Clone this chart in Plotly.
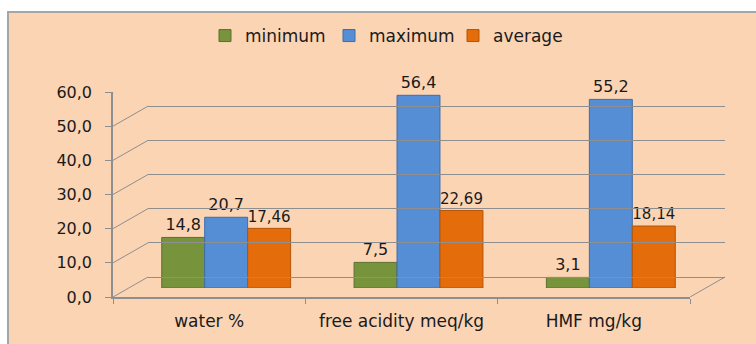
import plotly.graph_objects as go

categories = ["water %", "free acidity meq/kg", "HMF mg/kg"]
minimum = [14.8, 7.5, 3.1]
maximum = [20.7, 56.4, 55.2]
average = [17.46, 22.69, 18.14]
y_ticks = [0, 10, 20, 30, 40, 50, 60]
series_names = ["minimum", "maximum", "average"]

W, H = 756, 344
def fx(p): return p / W
def fy(p): return 1 - p / H

colors = ["#77933C", "#558ED5", "#E46C0A"]
edges = ["#5A7030", "#3C6DA8", "#B35408"]
FONT = "DejaVu Sans"
GRID = "#8E8E8E"
TXT = "#1a1a1a"

def lab(v):
    return ("%g" % v).replace(".", ",")

fig = go.Figure()
for name, vals, c, e in zip(series_names, [minimum, maximum, average], colors, edges):
    fig.add_trace(go.Bar(
        x=categories, y=vals, name=name,
        marker=dict(color=c, line=dict(color=e, width=1)),
        text=[lab(v) for v in vals], textposition="outside",
        textfont=dict(family=FONT, size=16, color=TXT),
        cliponaxis=False, xaxis="x", yaxis="y"))

fig.add_trace(go.Scatter(x=categories, y=[None]*3, xaxis="x3", yaxis="y2",
                         showlegend=False, hoverinfo="skip", mode="markers"))
fig.add_trace(go.Scatter(x=categories, y=[None]*3, xaxis="x2", yaxis="y3",
                         showlegend=False, hoverinfo="skip", mode="markers"))

shapes = [dict(type="rect", xref="paper", yref="paper", x0=fx(8), x1=1.05,
               y0=-0.05, y1=fy(12), fillcolor="#FBD4B4",
               line=dict(color="#A6A6A6", width=2), layer="below")]
for v in y_ticks:
    shapes.append(dict(type="line", xref="paper", x0=fx(113), x1=fx(148),
                       yref="y2", ysizemode="pixel", yanchor=v, y0=0, y1=20,
                       line=dict(color=GRID, width=1), layer="below"))
shapes.append(dict(type="line", xref="paper", x0=fx(690), x1=fx(725),
                   yref="y2", ysizemode="pixel", yanchor=0, y0=0, y1=20,
                   line=dict(color=GRID, width=1), layer="below"))

fig.update_layout(
    template="none",
    width=W, height=H, margin=dict(l=0, r=0, t=0, b=0, autoexpand=False),
    paper_bgcolor="white", plot_bgcolor="rgba(0,0,0,0)",
    barmode="group", bargap=0.33, bargroupgap=0.0,
    separators=",.",
    font=dict(family=FONT, size=16, color=TXT),
    shapes=shapes,
    showlegend=True,
    legend=dict(orientation="h", x=fx(205), xanchor="left", y=fy(36), yanchor="middle",
                bgcolor="rgba(0,0,0,0)", font=dict(family=FONT, size=17, color=TXT),
                itemwidth=30, traceorder="normal", entrywidth=79, entrywidthmode="pixels"),
    xaxis=dict(domain=[fx(130), fx(707)], anchor="y", visible=False, automargin=False,
               range=[-0.5, 2.5], type="category", categoryarray=categories),
    yaxis=dict(domain=[fy(288), fy(83)], anchor="x", range=[0, 60], visible=False,
               automargin=False),
    xaxis2=dict(domain=[fx(148), fx(725)], anchor="y3", visible=False, automargin=False,
                range=[-0.5, 2.5], type="category", categoryarray=categories),
    yaxis3=dict(domain=[fy(277), fy(72)], anchor="x2", range=[0, 60], automargin=False,
                tickvals=y_ticks, showgrid=True, gridcolor=GRID, gridwidth=1,
                zeroline=True, zerolinecolor=GRID, zerolinewidth=1,
                showticklabels=False, showline=False, ticks=""),
    xaxis3=dict(domain=[fx(113), fx(690)], anchor="y2", range=[-0.5, 2.5], automargin=False,
                type="category", categoryarray=categories,
                showline=True, linecolor=GRID, linewidth=1.5,
                ticks="outside", tickson="boundaries", ticklen=5, tickcolor=GRID,
                ticklabelstandoff=8,
                showgrid=False, tickfont=dict(family=FONT, size=17, color=TXT)),
    yaxis2=dict(domain=[fy(297), fy(92)], anchor="x3", range=[0, 60], automargin=False,
                tickvals=y_ticks, tickformat=".1f",
                showline=True, linecolor=GRID, linewidth=1.5,
                ticks="outside", ticklen=6, tickcolor=GRID, showgrid=False, zeroline=False,
                ticklabelstandoff=10,
                tickfont=dict(family=FONT, size=16, color=TXT)),
)

fig.write_html("out.html")
